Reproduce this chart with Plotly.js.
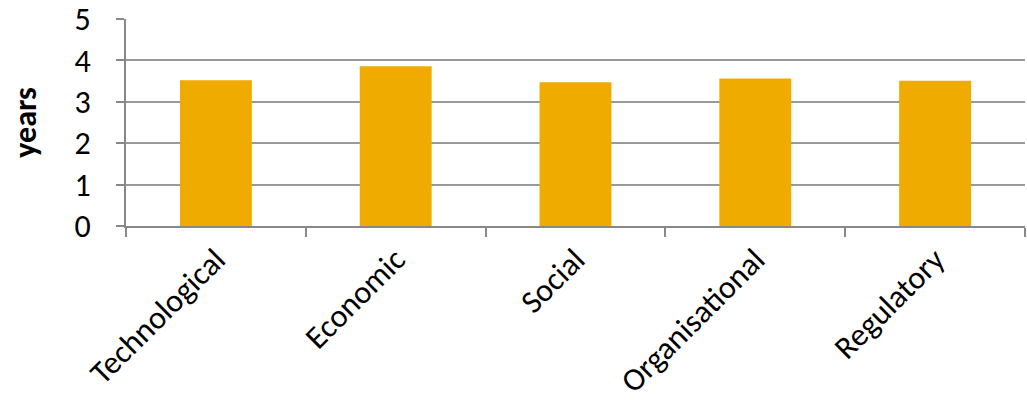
<!DOCTYPE html>
<html>
<head>
<meta charset="utf-8">
<script src="https://cdn.plot.ly/plotly-3.0.1.min.js"></script>
<style>html,body{margin:0;padding:0;background:#fff;}#chart{width:1027px;height:400px;}</style>
</head>
<body>
<div id="chart"></div>
<script>
const categories = ["Technological", "Economic", "Social", "Organisational", "Regulatory"];
const years = [3.52, 3.86, 3.47, 3.56, 3.51];
const yTicks = [0, 1, 2, 3, 4, 5];

const fontFam = "Carlito, Calibri, 'Open Sans', sans-serif";

Plotly.newPlot('chart', [{
  type: 'bar',
  x: categories,
  y: years,
  marker: {color: '#F0AB00', line: {width: 0}},
  hoverinfo: 'skip'
}], {
  width: 1027, height: 400,
  margin: {l: 126, r: 2, t: 19, b: 174, pad: 0},
  paper_bgcolor: '#fff', plot_bgcolor: '#fff',
  bargap: 0.6,
  showlegend: false,
  font: {family: fontFam, color: '#000'},
  xaxis: {
    type: 'category',
    tickson: 'boundaries',
    ticks: 'outside', ticklen: 9, tickwidth: 2, tickcolor: '#888',
    showline: true, linecolor: '#888', linewidth: 2,
    showgrid: false, zeroline: false,
    tickangle: -45,
    tickfont: {size: 32, family: fontFam, color: '#000'}
  },
  yaxis: {
    range: [0, 5],
    tickvals: yTicks,
    ticks: 'outside', ticklen: 8, tickwidth: 2, tickcolor: '#888',
    showline: true, linecolor: '#888', linewidth: 2,
    showgrid: true, gridcolor: '#999', gridwidth: 2,
    zeroline: false,
    ticklabelstandoff: 19,
    tickfont: {size: 32, family: fontFam, color: '#000'},
    title: {text: '<b>years</b>', font: {size: 32, family: fontFam, color: '#000'}, standoff: 28}
  }
}, {displayModeBar: false, staticPlot: true});
</script>
</body>
</html>
